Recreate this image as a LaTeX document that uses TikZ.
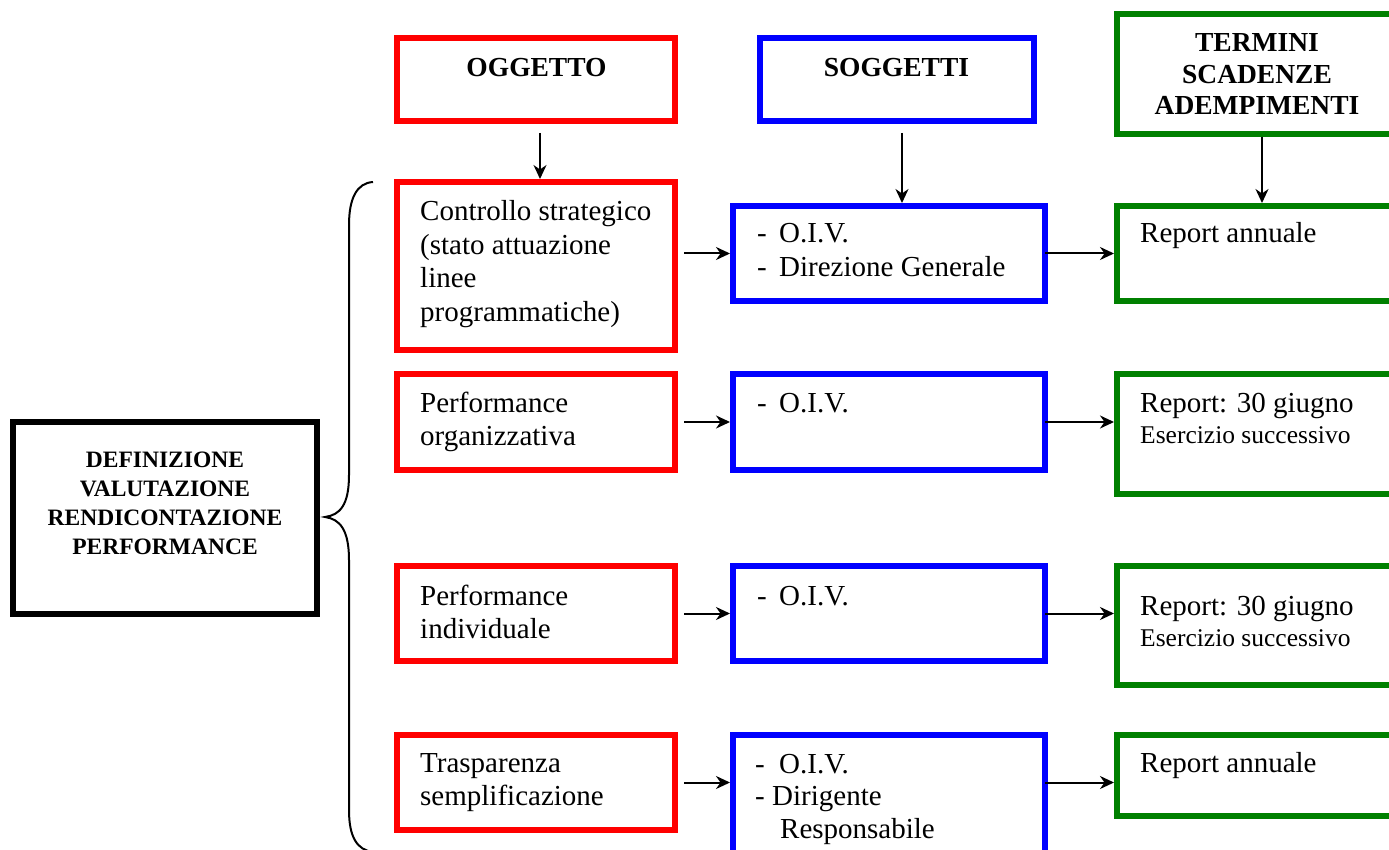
\documentclass[tikz,border=0pt]{standalone}
\usepackage{fontspec}
\setmainfont{Liberation Serif}
\usetikzlibrary{arrows.meta}
\definecolor{cred}{RGB}{255,0,0}
\definecolor{cblue}{RGB}{0,0,255}
\definecolor{cgreen}{RGB}{0,128,0}
\newcommand\mtext[1]{\parbox[t]{320pt}{\raggedright #1}}
\newcommand\ctext[1]{\parbox[t]{300pt}{\centering #1}}
\newcommand\dsh[1]{\makebox[#1][l]{-}}
\begin{document}
\begin{tikzpicture}[x=1pt,y=-1pt,
  box/.style={draw, line width=6pt, rectangle, inner sep=0pt, outer sep=0pt},
  rbox/.style={box, draw=cred, minimum width=278pt},
  bbox/.style={box, draw=cblue, minimum width=312pt},
  gbox/.style={box, draw=cgreen, minimum width=283pt},
  hdr/.style={font=\fontsize{27.5}{31.5}\selectfont\bfseries, inner sep=0pt, anchor=base},
  blk/.style={font=\fontsize{23.5}{29}\selectfont\bfseries, inner sep=0pt, anchor=base},
  body/.style={font=\fontsize{29}{33.5}\selectfont, inner sep=0pt, anchor=base west},
  gbody/.style={font=\fontsize{29}{31}\selectfont, inner sep=0pt, anchor=base west},
  arr/.style={line width=2pt, -{Stealth[length=14pt,width=13pt,inset=4.5pt]}, shorten >=3pt},
  brace/.style={line width=2pt},
]
\useasboundingbox (0,0) rectangle (1389,850);
\clip (0,0) rectangle (1389,850);

% headers
\node[box, draw=cred, minimum width=278pt, minimum height=83pt] (hO) at (536,79.5) {};
\node[box, draw=cblue, minimum width=274pt, minimum height=83pt] (hS) at (897,79.5) {};
\node[gbox, minimum height=120pt] (hT) at (1258.5,74) {};
\node[hdr] (tO) at (536.5,77) {OGGETTO};
\node[hdr] (tS) at (896.5,77) {SOGGETTI};
\node[hdr] (tT) at (1257,52) {\ctext{TERMINI\\SCADENZE\\ADEMPIMENTI}};

% left box
\node[box, draw=black, minimum width=304pt, minimum height=192pt] (L) at (165,518) {};
\node[blk] (tL) at (165,467) {\ctext{DEFINIZIONE\\VALUTAZIONE\\RENDICONTAZIONE\\PERFORMANCE}};

% red column
\node[rbox, minimum height=168pt] (r1) at (536,266) {};
\node[rbox, minimum height=96pt] (r2) at (536,422) {};
\node[rbox, minimum height=95pt] (r3) at (536,613.5) {};
\node[rbox, minimum height=95pt] (r4) at (536,782.5) {};
\node[body] (tr1) at (420,221) {\mtext{Controllo strategico\\(stato attuazione\\linee\\programmatiche)}};
\node[body] (tr2) at (420,412) {\mtext{Performance\\organizzativa}};
\node[body] (tr3) at (420,605) {\mtext{Performance\\individuale}};
\node[body] (tr4) at (420,772) {\mtext{Trasparenza\\semplificazione}};

% blue column
\node[bbox, minimum height=95pt] (b1) at (889,253.5) {};
\node[bbox, minimum height=96pt] (b2) at (889,422) {};
\node[bbox, minimum height=95pt] (b3) at (889,613.5) {};
\node[bbox, minimum height=150pt] (b4) at (889,810) {};
\node[body] (tb1) at (757,243) {\mtext{\dsh{22pt}O.I.V.\\\dsh{22pt}Direzione Generale}};
\node[body] (tb2) at (757,412) {\mtext{\dsh{22pt}O.I.V.}};
\node[body] (tb3) at (757,605) {\mtext{\dsh{22pt}O.I.V.}};
\node[font=\fontsize{29}{32.5}\selectfont, inner sep=0pt, anchor=base west] (tb4) at (755,773)
  {\mtext{\dsh{24pt}O.I.V.\\\dsh{17pt}Dirigente\\\hspace*{25pt}Responsabile}};

% green column
\node[gbox, minimum height=95pt] (g1) at (1258.5,253.5) {};
\node[gbox, minimum height=120pt] (g2) at (1258.5,434) {};
\node[gbox, minimum height=119pt] (g3) at (1258.5,625.5) {};
\node[gbox, minimum height=81pt] (g4) at (1258.5,775.5) {};
\node[gbody] (tg1) at (1140,243) {\mtext{Report annuale}};
\node[gbody] (tg2) at (1140,412) {\mtext{Report: 30 giugno\\{\fontsize{25.5}{31}\selectfont Esercizio successivo}}};
\node[gbody] (tg3) at (1140,615) {\mtext{Report: 30 giugno\\{\fontsize{25.5}{30}\selectfont Esercizio successivo}}};
\node[gbody] (tg4) at (1140,772) {\mtext{Report annuale}};

% vertical arrows from headers
\coordinate (sO) at ([xshift=4pt,yshift=-12pt]hO.south);
\coordinate (sS) at ([xshift=5pt,yshift=-12pt]hS.south);
\coordinate (sT) at ([xshift=3.5pt,yshift=-3pt]hT.south);
\draw[arr] (sO) -- (sO |- r1.north);
\draw[arr] (sS) -- (sS |- b1.north);
\draw[arr] (sT) -- (sT |- g1.north);

% horizontal arrows
\coordinate (a1) at ([xshift=9pt]r1.east);
\draw[arr] (a1 |- b1.west) -- (b1.west);
\draw[arr] (b1.east) -- (g1.west |- b1.east);
\draw[arr] ([xshift=9pt]r2.east) -- (b2.west);
\draw[arr] (b2.east) -- (g2.west |- b2.east);
\draw[arr] ([xshift=9pt]r3.east) -- (b3.west);
\draw[arr] (b3.east) -- (g3.west |- b3.east);
\coordinate (a4) at ([xshift=9pt]r4.east);
\draw[arr] (a4) -- (b4.west |- a4);
\draw[arr] (b4.east |- a4) -- (g4.west |- a4);

% brace
\draw[brace] (373,182) .. controls (357,183) and (349,198) .. (349,225)
  -- (349,475) .. controls (349,505) and (340,515) .. (325,517)
  .. controls (340,519) and (349,530) .. (349,560)
  -- (349,810) .. controls (349,837) and (357,850) .. (373,852);
\end{tikzpicture}
\end{document}
